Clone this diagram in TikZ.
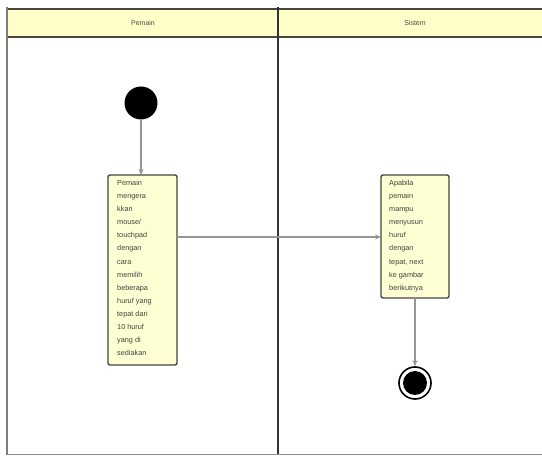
\documentclass[tikz,border=0pt]{standalone}
\usepackage{fontspec}
\setmainfont{Liberation Sans}
\usetikzlibrary{arrows.meta}
\definecolor{hdr}{RGB}{255,255,200}
\definecolor{actfill}{RGB}{255,255,212}
\definecolor{edge}{RGB}{70,70,60}
\definecolor{flow}{RGB}{150,150,150}
\tikzset{
  actbox/.style={draw=edge, line width=1.4pt, fill=actfill, rounded corners=2pt, inner sep=0pt},
  acttext/.style={font=\fontsize{7.3}{13.1}\selectfont, align=left, text=black!75, inner sep=0pt},
  flowarrow/.style={draw=flow, line width=1.2pt, -{Stealth[length=6pt,width=5pt]}},
  lanehead/.style={font=\fontsize{7}{8}\selectfont, text=black!70}
}
\begin{document}
\begin{tikzpicture}[x=1pt,y=-1pt]
\useasboundingbox (0,0) rectangle (542,457);
% swimlane frame
\fill[hdr] (7,9) rectangle (542,37);
\draw[edge, line width=1.5pt] (7,9) -- (542,9);
\draw[edge, line width=1.5pt] (7,37) -- (542,37);
\draw[edge!70, line width=1.5pt] (7,7) -- (7,455);
\draw[black!80, line width=1.5pt] (278,7) -- (278,455);
\draw[black!45, line width=1pt] (7,455) -- (542,455);
\node[lanehead] (lane1) at (143,23) {Pemain};
\node[lanehead] (lane2) at (415,23) {Sistem};
% start
\node[circle, fill=black, minimum size=33pt, inner sep=0pt] (start) at (141,103) {};
% activity 1
\path[actbox] (108,175) rectangle (177,365);
\node[acttext, anchor=north west] (a1t) at (117,180) {Pemain\\mengera\\kkan\\mouse/\\touchpad\\dengan\\cara\\memilih\\beberapa\\huruf yang\\tepat dari\\10 huruf\\yang di\\sediakan};
\coordinate (a1top) at (141,175);
\coordinate (a1right) at (177,237);
% activity 2
\path[actbox] (381,175) rectangle (449,298);
\node[acttext, anchor=north west] (a2t) at (389,180) {Apabila\\pemain\\mampu\\menyusun\\huruf\\dengan\\tepat, next\\ke gambar\\berikutnya};
\coordinate (a2left) at (381,237);
\coordinate (a2bottom) at (415,298);
% final
\node[circle, draw=black, line width=1.6pt, fill=white, minimum size=32pt, inner sep=0pt] (final) at (415,383) {};
\node[circle, fill=black, minimum size=24pt, inner sep=0pt] (finalin) at (415,383) {};
% flows
\draw[flowarrow] (start) -- (a1top);
\draw[flowarrow] (a1right) -- (a2left);
\draw[flowarrow] (a2bottom) -- (final);
\end{tikzpicture}
\end{document}
